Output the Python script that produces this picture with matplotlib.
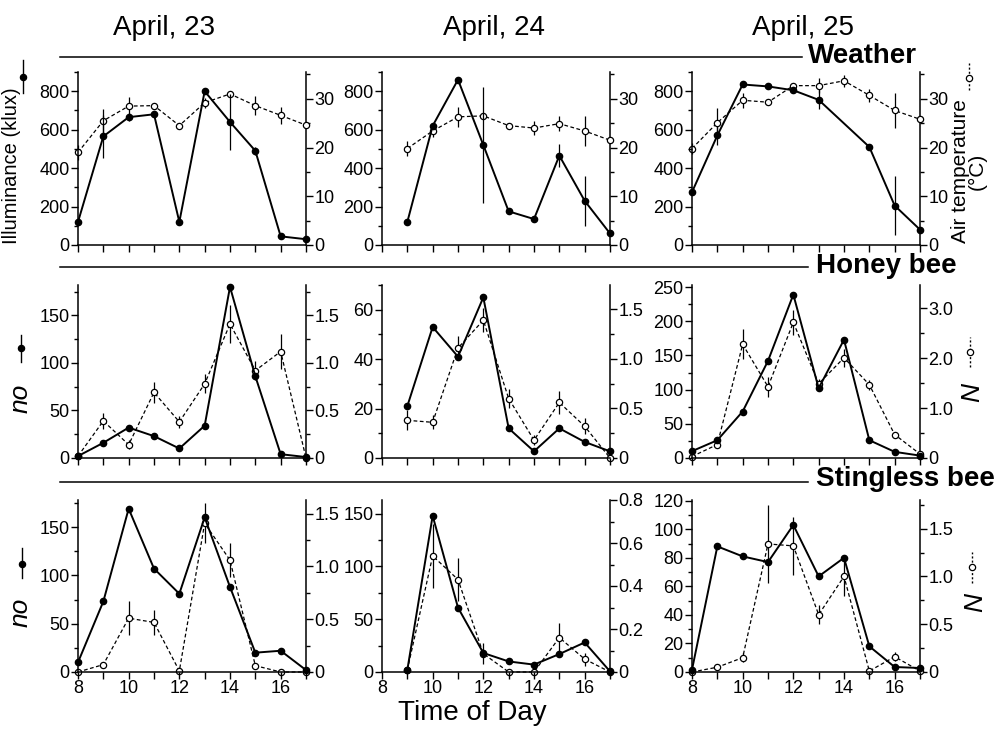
import numpy as np
import matplotlib
matplotlib.use('Agg')
import matplotlib.pyplot as plt
from matplotlib.lines import Line2D
from matplotlib.ticker import MultipleLocator, FuncFormatter

plt.rcParams['font.family'] = ['Liberation Sans', 'DejaVu Sans']

# ---------------- data ----------------
hours_8 = [8, 9, 10, 11, 12, 13, 14, 15, 16, 17]
hours_9 = [9, 10, 11, 12, 13, 14, 15, 16, 17]
day_titles = ["April, 23", "April, 24", "April, 25"]
row_titles = ["Weather", "Honey bee", "Stingless bee"]

# Weather: illuminance (klux, filled) and air temperature (degC, open)
illum_apr23 = [120, 565, 665, 680, 120, 800, 640, 490, 45, 30]
illum_err_apr23 = [0, 110, 20, 0, 0, 0, 145, 22, 0, 0]
temp_apr23 = [19.0, 25.5, 28.5, 28.6, 24.5, 29.2, 31.0, 28.6, 26.6, 24.6]
temp_err_apr23 = [1.5, 2.5, 1.8, 0, 0, 1.0, 0, 2.0, 1.8, 0]

illum_apr24 = [120, 620, 860, 520, 175, 135, 465, 230, 60]
illum_err_apr24 = [0, 0, 0, 300, 0, 0, 58, 130, 0]
temp_apr24 = [19.8, 23.4, 26.3, 26.5, 24.5, 24.0, 24.9, 23.4, 21.5]
temp_err_apr24 = [1.5, 1.2, 2.0, 0, 0, 1.5, 1.5, 3.0, 0]

illum_apr25 = [275, 570, 835, 825, 805, 755, np.nan, 510, 205, 80]
illum_err_apr25 = [0, 50, 0, 0, 0, 50, 0, 0, 155, 0]
temp_apr25 = [19.8, 25.1, 29.7, 29.3, 32.7, 32.7, 33.7, 30.7, 27.6, 25.8]
temp_err_apr25 = [1.2, 3.0, 1.5, 0, 0, 1.5, 1.2, 1.3, 3.5, 0]

# Honey bee: no (filled) and N (open)
hb_no_apr23 = [2, 16, 32, 23, 10, 34, 180, 86, 4, 1]
hb_N_apr23 = [0.02, 0.39, 0.14, 0.69, 0.38, 0.78, 1.41, 0.92, 1.12, 0.0]
hb_Nerr_apr23 = [0, 0.08, 0.05, 0.11, 0.06, 0.1, 0.2, 0.1, 0.18, 0]

hb_no_apr24 = [21, 53, 41, 65, 12, 2.7, 12, 6.5, 2.7]
hb_N_apr24 = [0.38, 0.36, 1.11, 1.39, 0.60, 0.18, 0.56, 0.32, 0.0]
hb_Nerr_apr24 = [0.1, 0.07, 0.12, 0.12, 0.1, 0.05, 0.12, 0.08, 0]

hb_no_apr25 = [10, 26, 68, 142, 239, 102, 173, 26, 9, 3.5]
hb_N_apr25 = [0.03, 0.27, 2.28, 1.43, 2.72, 1.49, 2.01, 1.47, 0.47, 0.08]
hb_Nerr_apr25 = [0, 0.05, 0.3, 0.2, 0.25, 0.1, 0.18, 0.1, 0, 0]

# Stingless bee: no (filled) and N (open)
sb_no_apr23 = [10, 73, 169, 107, 81, 160, 88, 20, 22, 2]
sb_N_apr23 = [0.0, 0.07, 0.51, 0.47, 0.01, 1.41, 1.06, 0.06, 0.0, 0.0]
sb_Nerr_apr23 = [0, 0, 0.16, 0.12, 0, 0.19, 0.16, 0, 0, 0]

sb_no_apr24 = [2, 148, 61, 18, 10, 7, 17, 28, 0.6]
sb_N_apr24 = [0.01, 0.54, 0.43, 0.085, 0, 0, 0.16, 0.06, 0]
sb_Nerr_apr24 = [0, 0.15, 0.1, 0.05, 0, 0, 0.07, 0.03, 0]

sb_no_apr25 = [1.6, 88, 81, 77, 103, 67, 80, 18, 3.5, 2.8]
sb_N_apr25 = [0.0, 0.05, 0.15, 1.34, 1.32, 0.6, 1.0, 0.01, 0.16, 0.01]
sb_Nerr_apr25 = [0, 0.03, 0.05, 0.41, 0.3, 0.1, 0.2, 0, 0.05, 0]

# ---------------- panels ----------------
panels = [
    [  # weather row
        dict(x=hours_8, yl=illum_apr23, ylerr=illum_err_apr23, yr=temp_apr23, yrerr=temp_err_apr23,
             llim=900, lmaj=200, lmin=100, rlim=35.5, rmaj=10, rmin=5, rint=True),
        dict(x=hours_9, yl=illum_apr24, ylerr=illum_err_apr24, yr=temp_apr24, yrerr=temp_err_apr24,
             llim=900, lmaj=200, lmin=100, rlim=35.5, rmaj=10, rmin=5, rint=True),
        dict(x=hours_8, yl=illum_apr25, ylerr=illum_err_apr25, yr=temp_apr25, yrerr=temp_err_apr25,
             llim=900, lmaj=200, lmin=100, rlim=35.5, rmaj=10, rmin=5, rint=True),
    ],
    [  # honey bee row
        dict(x=hours_8, yl=hb_no_apr23, ylerr=None, yr=hb_N_apr23, yrerr=hb_Nerr_apr23,
             llim=182, lmaj=50, lmin=25, rlim=1.82, rmaj=0.5, rmin=0.25, rint=False),
        dict(x=hours_9, yl=hb_no_apr24, ylerr=None, yr=hb_N_apr24, yrerr=hb_Nerr_apr24,
             llim=70, lmaj=20, lmin=10, rlim=1.745, rmaj=0.5, rmin=0.25, rint=False),
        dict(x=hours_8, yl=hb_no_apr25, ylerr=None, yr=hb_N_apr25, yrerr=hb_Nerr_apr25,
             llim=253, lmaj=50, lmin=25, rlim=3.47, rmaj=1.0, rmin=0.5, rint=False),
    ],
    [  # stingless bee row
        dict(x=hours_8, yl=sb_no_apr23, ylerr=None, yr=sb_N_apr23, yrerr=sb_Nerr_apr23,
             llim=178, lmaj=50, lmin=25, rlim=1.63, rmaj=0.5, rmin=0.25, rint=False),
        dict(x=hours_9, yl=sb_no_apr24, ylerr=None, yr=sb_N_apr24, yrerr=sb_Nerr_apr24,
             llim=163, lmaj=50, lmin=25, rlim=0.8, rmaj=0.2, rmin=0.1, rint=False),
        dict(x=hours_8, yl=sb_no_apr25, ylerr=None, yr=sb_N_apr25, yrerr=sb_Nerr_apr25,
             llim=120.5, lmaj=20, lmin=10, rlim=1.8, rmaj=0.5, rmin=0.25, rint=False),
    ],
]

W, H = 999, 735
fig = plt.figure(figsize=(W / 100, H / 100), dpi=100)

col_left = [78, 382, 692]
col_w = 228
row_top = [72, 285, 500]
row_bot = [245, 458, 672]

TICK_FS = 13


def right_fmt(is_int):
    def f(v, pos):
        if abs(v) < 1e-9:
            return "0"
        return f"{v:.0f}" if is_int else f"{v:.1f}"
    return FuncFormatter(f)


for r in range(3):
    for c in range(3):
        p = panels[r][c]
        rect = [col_left[c] / W, 1 - row_bot[r] / H, col_w / W, (row_bot[r] - row_top[r]) / H]
        ax = fig.add_axes(rect)
        ax2 = ax.twinx()
        ax.set_zorder(2)
        ax.patch.set_visible(False)

        x = np.array(p['x'], float)
        yl = np.array(p['yl'], float)
        ok = ~np.isnan(yl)
        if p['ylerr'] is not None:
            ax.errorbar(x[ok], yl[ok], yerr=np.array(p['ylerr'], float)[ok], fmt='none',
                        ecolor='black', elinewidth=0.9, capsize=0, clip_on=False)
        ax.plot(x[ok], yl[ok], '-o', color='black', lw=1.4, ms=4.5, clip_on=False, zorder=3)

        yr = np.array(p['yr'], float)
        ax2.errorbar(x, yr, yerr=np.array(p['yrerr'], float), fmt='none', ecolor='black',
                     elinewidth=0.9, capsize=0, clip_on=False)
        ax2.plot(x, yr, linestyle=(0, (3, 2)), marker='o', color='black', mfc='white', mec='black',
                 mew=0.9, lw=0.9, ms=4.5, clip_on=False, zorder=3)

        ax.set_xlim(8, 17)
        ax.set_ylim(0, p['llim'])
        ax2.set_ylim(0, p['rlim'])

        ax.yaxis.set_major_locator(MultipleLocator(p['lmaj']))
        ax.yaxis.set_minor_locator(MultipleLocator(p['lmin']))
        ax2.yaxis.set_major_locator(MultipleLocator(p['rmaj']))
        ax2.yaxis.set_minor_locator(MultipleLocator(p['rmin']))
        ax2.yaxis.set_major_formatter(right_fmt(p['rint']))

        ax.set_xticks(hours_8)
        if r == 2:
            ax.set_xticklabels([str(h) if h % 2 == 0 else '' for h in hours_8])
        else:
            ax.set_xticklabels([])

        for a in (ax, ax2):
            a.spines['top'].set_visible(False)
            for s in a.spines.values():
                s.set_linewidth(1.1)
        ax.spines['right'].set_visible(False)
        ax2.spines['left'].set_visible(False)
        ax2.spines['bottom'].set_visible(False)

        ax.tick_params(axis='both', which='major', direction='out', length=5, width=1,
                       labelsize=TICK_FS, pad=1)
        ax.tick_params(axis='y', which='minor', direction='out', length=3, width=1)
        ax.tick_params(axis='x', which='minor', length=0)
        ax2.tick_params(axis='y', which='major', direction='out', length=5, width=1,
                        labelsize=TICK_FS, pad=1)
        ax2.tick_params(axis='y', which='minor', direction='out', length=3, width=1)

# ---------------- titles and headers ----------------
title_x = [164, 494, 803]
for t, xc in zip(day_titles, title_x):
    fig.text(xc / W, 1 - 35 / H, t, ha='center', va='baseline', fontsize=20)

header_y = [57, 267, 482]
header_text_y = [56, 266, 479]
line_end = [802, 808, 808]
text_x = [808, 816, 816]
for name, ly, ty, le, tx in zip(row_titles, header_y, header_text_y, line_end, text_x):
    fig.add_artist(Line2D([60 / W, le / W], [1 - ly / H, 1 - ly / H], color='black', lw=1.1,
                          transform=fig.transFigure))
    fig.text(tx / W, 1 - ty / H, name, ha='left', va='center', fontsize=20, fontweight='bold')

fig.text(472 / W, 1 - 720 / H, "Time of Day", ha='center', va='baseline', fontsize=20)

# ---------------- axis labels with symbol keys ----------------
fig.text(12 / W, 1 - 166 / H, "Illuminance (klux)", rotation=90, ha='center', va='center', fontsize=14.5)
fig.text(969 / W, 1 - 171 / H, "Air temperature\n(°C)", rotation=90, ha='center', va='center',
         fontsize=15, multialignment='center', linespacing=0.85)
fig.text(21 / W, 1 - 398 / H, "no", rotation=90, ha='center', va='center', fontsize=19, fontstyle='italic')
fig.text(21 / W, 1 - 612 / H, "no", rotation=90, ha='center', va='center', fontsize=19, fontstyle='italic')
fig.text(972 / W, 1 - 393 / H, "N", rotation=90, ha='center', va='center', fontsize=19, fontstyle='italic')
fig.text(975 / W, 1 - 602 / H, "N", rotation=90, ha='center', va='center', fontsize=19, fontstyle='italic')


def key(xp, y0, y1, ym, filled):
    ls = '-' if filled else (0, (1.5, 1.5))
    fig.add_artist(Line2D([xp / W, xp / W], [1 - y1 / H, 1 - y0 / H], color='black', lw=1.0,
                          linestyle=ls, transform=fig.transFigure))
    fig.add_artist(Line2D([xp / W], [1 - ym / H], marker='o', ms=4.5, color='black',
                          mfc='black' if filled else 'white', mec='black', mew=0.9,
                          transform=fig.transFigure))


key(23, 60, 93, 77, True)
key(21, 335, 362, 348, True)
key(22, 548, 578, 564, True)
key(969, 63, 90, 78, False)
key(970, 337, 367, 352, False)
key(972, 552, 583, 567, False)

fig.savefig("out.png", dpi=100)
